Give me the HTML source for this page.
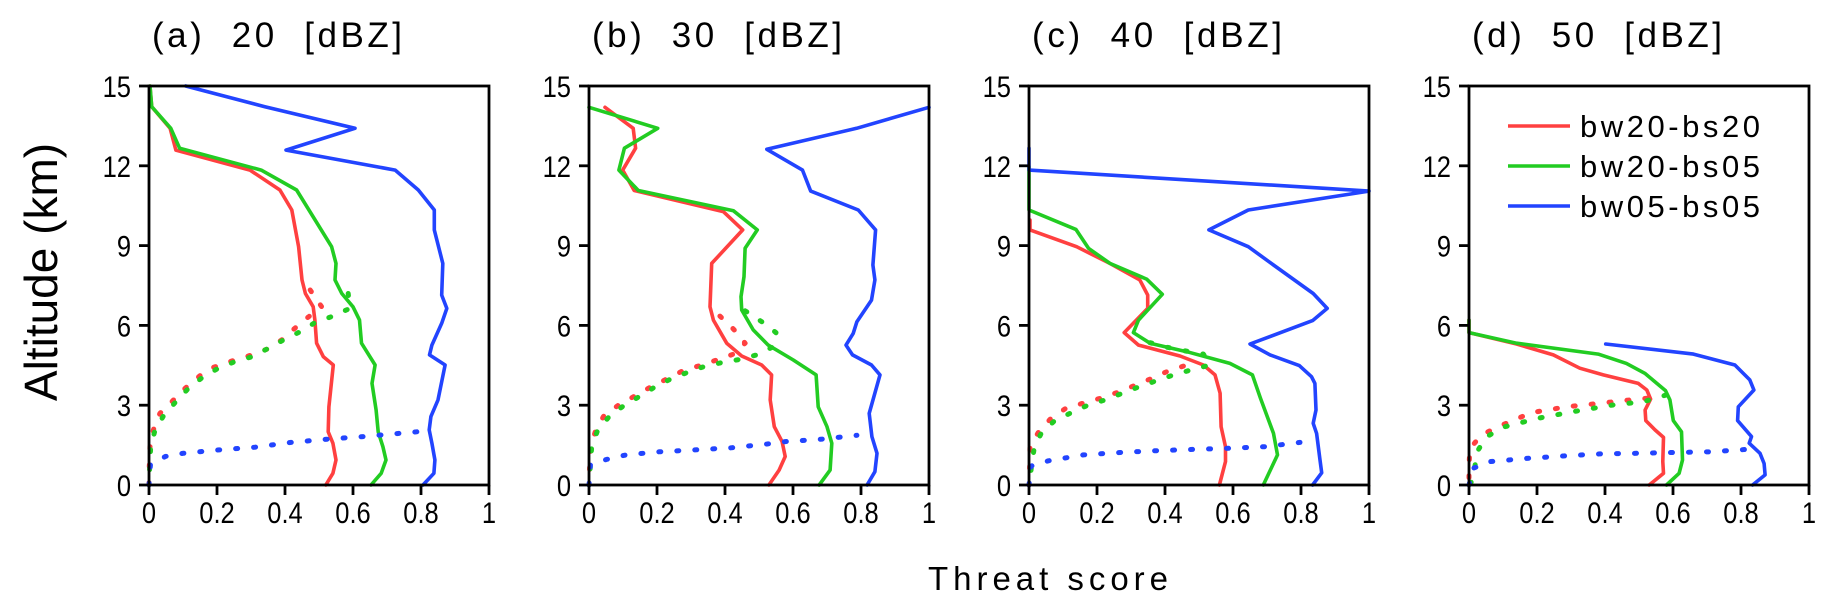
<!DOCTYPE html>
<html><head><meta charset="utf-8"><style>
html,body{margin:0;padding:0;background:#fff;}
svg{display:block;}
.tick{font-family:"Liberation Sans",sans-serif;font-size:30px;fill:#000;}
.mono{font-family:"Liberation Sans",sans-serif;fill:#000;white-space:pre;}
</style></head><body>
<svg id="chart" width="1830" height="609" viewBox="0 0 1830 609" xmlns="http://www.w3.org/2000/svg">
<text x="0" y="0" transform="translate(57,272) rotate(-90)" text-anchor="middle" style="font-family:'Liberation Sans',sans-serif;font-size:46px;fill:#000;">Altitude (km)</text>
<text class="mono" x="928" y="590" textLength="240" lengthAdjust="spacing" style="font-size:33px;">Threat score</text>
</svg>
<script>
// values: [threat score, altitude km]
const panelTitles = ["(a)  20  [dBZ]", "(b)  30  [dBZ]", "(c)  40  [dBZ]", "(d)  50  [dBZ]"];
const xTicks = [0, 0.2, 0.4, 0.6, 0.8, 1];
const xTickLabels = ["0", "0.2", "0.4", "0.6", "0.8", "1"];
const yTicks = [0, 3, 6, 9, 12, 15];
const yTickLabels = ["0", "3", "6", "9", "12", "15"];
const seriesNames = ["bw20-bs20", "bw20-bs05", "bw05-bs05"];

const a_red = [[0.003,15],[0.008,14.22],[0.062,13.41],[0.079,12.59],[0.297,11.84],[0.385,11.09],[0.42,10.34],[0.44,8.96],[0.45,7.71],[0.46,7.2],[0.483,6.7],[0.488,6.2],[0.493,5.33],[0.513,4.82],[0.542,4.51],[0.529,2.94],[0.527,2.0],[0.541,1.57],[0.55,0.94],[0.541,0.44],[0.52,0]];
const a_green = [[0.003,15],[0.008,14.22],[0.064,13.41],[0.09,12.66],[0.33,11.84],[0.434,11.09],[0.537,8.96],[0.55,8.33],[0.547,7.71],[0.567,7.2],[0.6,6.7],[0.619,6.2],[0.625,5.33],[0.665,4.51],[0.656,3.82],[0.668,2.82],[0.674,2.0],[0.688,1.44],[0.697,0.94],[0.683,0.44],[0.653,0]];
const a_blue = [[0.108,15],[0.341,14.22],[0.606,13.41],[0.403,12.59],[0.724,11.84],[0.792,11.09],[0.839,10.34],[0.839,9.59],[0.864,8.33],[0.861,7.14],[0.876,6.64],[0.861,6.08],[0.832,5.26],[0.825,4.89],[0.871,4.51],[0.85,3.2],[0.829,2.57],[0.824,2.07],[0.832,1.57],[0.841,0.94],[0.838,0.44],[0.806,0]];
const a_red_dot = [[0.474,7.33],[0.508,6.7],[0.464,6.27],[0.425,5.85],[0.39,5.45],[0.346,5.1],[0.292,4.85],[0.238,4.64],[0.189,4.42],[0.15,4.11],[0.106,3.63],[0.067,3.13],[0.032,2.69],[0.013,2.07],[0.003,1.44],[0.001,0.7],[0,0]];
const a_green_dot = [[0.586,7.2],[0.591,6.64],[0.537,6.33],[0.488,6.1],[0.444,5.76],[0.395,5.45],[0.351,5.14],[0.302,4.82],[0.253,4.64],[0.204,4.39],[0.16,4.07],[0.116,3.63],[0.079,3.13],[0.044,2.63],[0.018,2.07],[0.005,1.44],[0.002,0.7],[0,0]];
const a_blue_dot = [[0,0],[0.004,0.75],[0.048,1.07],[0.1,1.19],[0.206,1.32],[0.312,1.42],[0.418,1.6],[0.524,1.72],[0.63,1.82],[0.735,1.94],[0.788,2.0],[0.83,2.26]];

const b_red = [[0.047,14.2],[0.13,13.41],[0.137,12.66],[0.099,11.84],[0.133,11.07],[0.395,10.28],[0.452,9.59],[0.361,8.33],[0.356,6.7],[0.366,6.2],[0.405,5.33],[0.449,4.85],[0.508,4.51],[0.537,4.14],[0.533,3.2],[0.545,2.19],[0.568,1.63],[0.577,1.07],[0.559,0.56],[0.529,0]];
const b_green = [[0,14.2],[0.202,13.41],[0.104,12.66],[0.088,11.84],[0.145,11.07],[0.425,10.31],[0.495,9.59],[0.459,8.9],[0.456,7.83],[0.447,7.08],[0.449,6.58],[0.483,5.83],[0.527,5.26],[0.601,4.7],[0.668,4.14],[0.674,2.94],[0.7,2.19],[0.714,1.57],[0.709,0.56],[0.677,0]];
const b_blue = [[1.0,14.2],[0.787,13.41],[0.523,12.62],[0.628,11.84],[0.652,11.05],[0.792,10.34],[0.843,9.59],[0.835,8.27],[0.841,7.71],[0.831,6.95],[0.788,6.14],[0.777,5.7],[0.756,5.26],[0.775,4.89],[0.831,4.51],[0.856,4.14],[0.824,2.69],[0.832,1.82],[0.847,1.19],[0.841,0.5],[0.818,0]];
const b_red_dot = [[0.385,6.35],[0.426,5.85],[0.459,5.33],[0.425,4.92],[0.375,4.7],[0.326,4.49],[0.277,4.3],[0.228,3.98],[0.179,3.67],[0.135,3.35],[0.088,3.01],[0.045,2.63],[0.019,2.03],[0.005,1.44],[0.002,0.75],[0,0]];
const b_green_dot = [[0.459,6.55],[0.508,6.14],[0.55,5.73],[0.542,5.2],[0.493,4.89],[0.444,4.72],[0.39,4.6],[0.338,4.45],[0.287,4.22],[0.238,3.97],[0.191,3.66],[0.147,3.32],[0.101,2.97],[0.059,2.57],[0.025,2.04],[0.008,1.44],[0,0]];
const b_blue_dot = [[0,0],[0.004,0.75],[0.051,0.96],[0.109,1.13],[0.206,1.25],[0.312,1.32],[0.418,1.4],[0.524,1.54],[0.577,1.63],[0.683,1.72],[0.788,1.87]];

const c_red = [[0.003,9.96],[0.003,9.59],[0.14,8.96],[0.238,8.33],[0.326,7.71],[0.349,7.14],[0.349,6.64],[0.28,5.73],[0.322,5.26],[0.444,4.85],[0.513,4.51],[0.547,4.14],[0.562,3.45],[0.565,2.19],[0.578,1.44],[0.578,0.88],[0.56,0]];
const c_green = [[0,11.97],[0,10.34],[0.138,9.61],[0.175,8.9],[0.238,8.33],[0.346,7.74],[0.392,7.17],[0.322,6.2],[0.307,5.73],[0.356,5.33],[0.464,5.01],[0.591,4.57],[0.657,4.14],[0.681,3.26],[0.719,1.94],[0.731,1.13],[0.689,0]];
const c_blue = [[0,12.66],[0,11.84],[1.0,11.05],[0.645,10.34],[0.529,9.59],[0.645,8.96],[0.719,8.27],[0.836,7.2],[0.877,6.64],[0.834,6.18],[0.65,5.3],[0.709,4.89],[0.795,4.49],[0.831,4.07],[0.841,3.82],[0.844,2.82],[0.836,2.32],[0.846,1.94],[0.856,0.94],[0.861,0.46],[0.834,0]];
const c_red_dot = [[0.454,4.47],[0.405,4.26],[0.356,3.98],[0.307,3.72],[0.258,3.47],[0.209,3.26],[0.158,3.07],[0.108,2.88],[0.065,2.51],[0.027,1.97],[0.003,1.44],[0.002,0.7],[0,0]];
const c_green_dot = [[0.356,5.35],[0.405,5.18],[0.459,5.04],[0.513,4.92],[0.532,4.51],[0.475,4.32],[0.425,4.14],[0.375,3.92],[0.325,3.7],[0.275,3.45],[0.224,3.2],[0.175,3.01],[0.125,2.72],[0.076,2.42],[0.037,1.97],[0.016,1.44],[0.008,0.75],[0,0]];
const c_blue_dot = [[0,0],[0.006,0.71],[0.057,0.91],[0.16,1.13],[0.268,1.22],[0.375,1.29],[0.483,1.34],[0.586,1.38],[0.694,1.44],[0.797,1.6]];

const d_red = [[0,6.2],[0,5.73],[0.14,5.3],[0.248,4.89],[0.326,4.39],[0.395,4.14],[0.498,3.82],[0.523,3.57],[0.534,3.23],[0.518,2.82],[0.52,2.42],[0.547,2.07],[0.572,1.79],[0.57,0.88],[0.572,0.44],[0.53,0]];
const d_green = [[0,6.2],[0,5.73],[0.14,5.33],[0.38,4.92],[0.463,4.57],[0.517,4.2],[0.578,3.55],[0.591,3.2],[0.601,2.42],[0.625,2.0],[0.628,0.94],[0.618,0.44],[0.581,0]];
const d_blue = [[0.402,5.3],[0.66,4.92],[0.782,4.51],[0.826,3.95],[0.838,3.57],[0.792,2.94],[0.79,2.42],[0.831,1.82],[0.824,1.57],[0.856,1.19],[0.868,0.81],[0.871,0.38],[0.834,0]];
const d_red_dot = [[0.523,3.26],[0.474,3.2],[0.385,3.07],[0.287,2.94],[0.184,2.72],[0.086,2.19],[0.037,1.88],[0.003,1.38],[0,0.75],[0,0]];
const d_green_dot = [[0.579,3.38],[0.513,3.13],[0.425,3.01],[0.307,2.76],[0.204,2.51],[0.106,2.19],[0.052,1.82],[0.027,1.32],[0.018,0.75],[0.008,0.13],[0,0]];
const d_blue_dot = [[0,0],[0.013,0.63],[0.062,0.88],[0.17,1.0],[0.277,1.09],[0.385,1.17],[0.493,1.19],[0.601,1.22],[0.709,1.25],[0.817,1.34]];

const panelData = [
  [a_red, a_green, a_blue, a_red_dot, a_green_dot, a_blue_dot],
  [b_red, b_green, b_blue, b_red_dot, b_green_dot, b_blue_dot],
  [c_red, c_green, c_blue, c_red_dot, c_green_dot, c_blue_dot],
  [d_red, d_green, d_blue, d_red_dot, d_green_dot, d_blue_dot]
];

const NS = "http://www.w3.org/2000/svg";
const svg = document.getElementById("chart");
const COLORS = ["#ff4040", "#22cc22", "#2244ff"];
const PLOT_W = 340, TOP = 86, BOTTOM = 485, X0 = 149, GAP = 440;
function mk(tag, attrs, parent) {
  const e = document.createElementNS(NS, tag);
  for (const k in attrs) e.setAttribute(k, attrs[k]);
  (parent || svg).appendChild(e);
  return e;
}
function xScale(p, v) { return X0 + p * GAP + v * PLOT_W; }
function yScale(h) { return BOTTOM - (h / 15) * (BOTTOM - TOP); }

panelData.forEach(function (series, p) {
  const L = X0 + p * GAP;
  const g = mk("g", {});
  
  
  const t = mk("text", {x: L + 3, y: 47, class: "mono", "font-size": 35, textLength: 250, lengthAdjust: "spacing"}, g);
  
  
  t.textContent = panelTitles[p];
  series.forEach(function (pts, s) {
    const d = pts.map(function (q) { return xScale(p, q[0]).toFixed(1) + "," + yScale(q[1]).toFixed(1); }).join(" ");
    const dotted = s >= 3;
    const pl = mk("polyline", {points: d, fill: "none", stroke: COLORS[s % 3], "stroke-width": dotted ? 5 : 3.6,
      "stroke-linejoin": "round", "stroke-linecap": "round", "stroke-dasharray": dotted ? "2 16" : "none"}, g);
    
    
  });
  const fr = mk("rect", {x: L, y: TOP, width: PLOT_W, height: BOTTOM - TOP, fill: "none", stroke: "#000", "stroke-width": 2.8}, g);
  
  
  yTicks.forEach(function (v, i) {
    const y = yScale(v);
    const tk = mk("line", {x1: L - 10, x2: L, y1: y, y2: y, stroke: "#000", "stroke-width": 2.8}, g);
    
    
    const lb = mk("text", {class: "tick", "text-anchor": "end", transform: "translate(" + (L - 18) + "," + (y + 11) + ") scale(0.85,1)"}, g);
    
    
    lb.textContent = yTickLabels[i];
  });
  xTicks.forEach(function (v, i) {
    const x = xScale(p, v);
    const tk = mk("line", {x1: x, x2: x, y1: BOTTOM, y2: BOTTOM + 10, stroke: "#000", "stroke-width": 2.8}, g);
    
    
    const lb = mk("text", {class: "tick", "text-anchor": "middle", transform: "translate(" + x + ",523) scale(0.85,1)"}, g);
    
    
    lb.textContent = xTickLabels[i];
  });
});

// legend in panel d
const lg = mk("g", {});


seriesNames.forEach(function (n, i) {
  const y = 126 + i * 40;
  const ln = mk("line", {x1: 1508, x2: 1570, y1: y, y2: y, stroke: COLORS[i], "stroke-width": 3.6}, lg);
  
  
  const tx = mk("text", {x: 1580, y: y + 11, class: "mono", "font-size": 31, textLength: 180, lengthAdjust: "spacing"}, lg);
  
  
  tx.textContent = n;
});
</script>
</body></html>
